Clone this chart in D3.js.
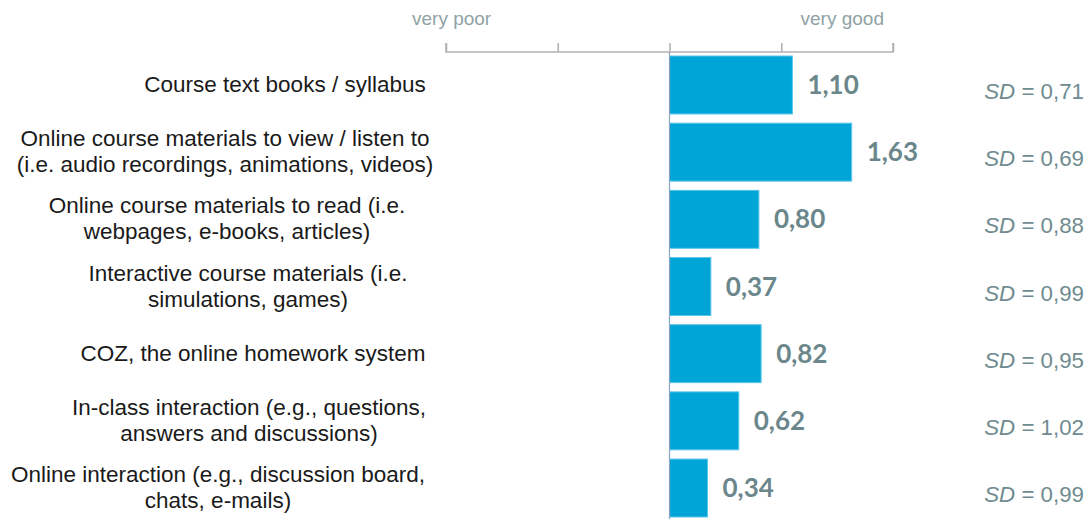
<!DOCTYPE html>
<html><head><meta charset="utf-8">
<script src="https://cdn.jsdelivr.net/npm/d3@7"></script>
<style>body{margin:0;background:#fff;}svg{display:block;}</style>
</head><body>
<svg id="c" width="1090" height="519"></svg>
<script>
const categories = [
  ["Course text books / syllabus"],
  ["Online course materials to view / listen to", "(i.e. audio recordings, animations, videos)"],
  ["Online course materials to read (i.e.", "webpages, e-books, articles)"],
  ["Interactive course materials (i.e.", "simulations, games)"],
  ["COZ, the online homework system"],
  ["In-class interaction (e.g., questions,", "answers and discussions)"],
  ["Online interaction (e.g., discussion board,", "chats, e-mails)"]
];
const values = [1.10, 1.63, 0.80, 0.37, 0.82, 0.62, 0.34];
const sds = [0.71, 0.69, 0.88, 0.99, 0.95, 1.02, 0.99];
const tickValues = [-2, -1, 0, 1, 2];
const scaleLabels = ["very poor", "very good"];
// layout: horizontal centre of each category text block
const labelCenters = [285, 225, 227, 248, 253, 249, 218];

const svg = d3.select("#c");
const x = d3.scaleLinear().domain([-2, 2]).range([446, 893]);
const y = d3.scaleBand().domain(d3.range(values.length)).range([56, 517]).paddingInner(0.137).paddingOuter(0);
const fmt = v => d3.format(".2f")(v).replace(".", ",");

// axis on top
const axisY = 52;
const ax = svg.append("g").attr("transform", `translate(0,${axisY})`)
  .call(d3.axisTop(x).tickValues(tickValues).tickSize(9).tickFormat(""));
ax.select(".domain").attr("stroke", "#b3b3b3").attr("stroke-width", 1.6).attr("d", `M${x(-2)},-9V0H${x(2)}V-9`);
ax.selectAll(".tick line").attr("stroke", "#b3b3b3").attr("stroke-width", 1.6);

svg.append("text").attr("x", 412).attr("y", 25).attr("fill", "#8fa2a5")
  .attr("font-family", "Liberation Sans, Arial, sans-serif").attr("font-size", 19).text(scaleLabels[0]);
svg.append("text").attr("x", 884).attr("y", 25).attr("text-anchor", "end").attr("fill", "#8fa2a5")
  .attr("font-family", "Liberation Sans, Arial, sans-serif").attr("font-size", 19).text(scaleLabels[1]);

// bars
svg.append("g").selectAll("rect").data(values).join("rect")
  .attr("x", x(0)).attr("y", (d, i) => y(i))
  .attr("width", d => x(d) - x(0)).attr("height", y.bandwidth())
  .attr("fill", "#00a5d7").attr("stroke", "#5cc6ec").attr("stroke-width", 1);

// baseline
svg.append("line").attr("x1", x(0)).attr("x2", x(0)).attr("y1", axisY).attr("y2", 519)
  .attr("stroke", "#8aa4c4").attr("stroke-width", 1.2);

// value labels
svg.append("g").selectAll("text").data(values).join("text")
  .attr("x", d => x(d) + 15).attr("y", (d, i) => y(i) + y.bandwidth() / 2 + 9)
  .attr("font-family", "Lato, sans-serif").attr("font-weight", "bold").attr("font-size", 26)
  .attr("fill", "#6b878b").text(d => fmt(d));

// SD labels
const sdg = svg.append("g").selectAll("text").data(sds).join("text")
  .attr("x", 1084).attr("y", (d, i) => y(i) + y.bandwidth() / 2 + 14)
  .attr("text-anchor", "end").attr("font-family", "Liberation Sans, Arial, sans-serif")
  .attr("font-size", 22.3).attr("fill", "#6f8b90");
sdg.append("tspan").attr("font-style", "italic").text("SD");
sdg.append("tspan").text(d => " = " + fmt(d));

// category labels
const lh = 26;
const cg = svg.append("g").selectAll("text").data(categories).join("text")
  .attr("text-anchor", "middle").attr("font-family", "Liberation Sans, Arial, sans-serif")
  .attr("font-size", 22.5).attr("fill", "#1a1a1a");
cg.each(function(lines, i) {
  const t = d3.select(this);
  const cy = y(i) + y.bandwidth() / 2;
  const start = cy - (lines.length - 1) * lh / 2 + 7;
  lines.forEach((ln, k) => {
    t.append("tspan").attr("x", labelCenters[i]).attr("y", start + k * lh).text(ln);
  });
});
</script>
</body></html>
